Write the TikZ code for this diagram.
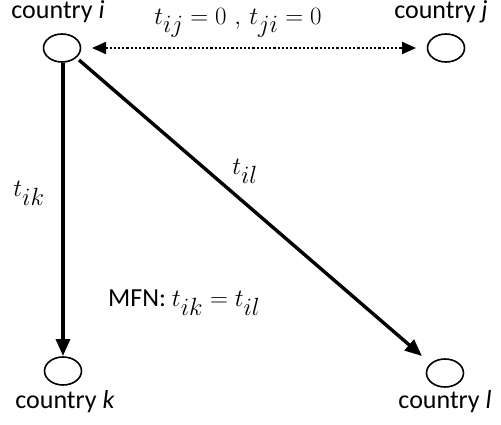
\documentclass[tikz,border=0pt]{standalone}
\usepackage{fontspec}
\setmainfont{Carlito}
\usetikzlibrary{arrows.meta,shapes.geometric}
\newcommand{\mathbig}{\fontsize{34}{36}\selectfont}
\begin{document}
\begin{tikzpicture}[x=1pt,y=-1pt,
  country/.style={draw,ellipse,line width=1.6pt,minimum width=37pt,minimum height=28pt,inner sep=0pt},
  lab/.style={font=\fontsize{26}{28}\selectfont,inner sep=0pt},
  mlab/.style={font=\mathbig,inner sep=0pt},
  link/.style={line width=3.4pt,-{Triangle[length=17pt,width=14pt]}}]
\useasboundingbox (0,0) rectangle (501,425);
\node[country] (i) at (62,48) {};
\node[country] (j) at (446,48) {};
\node[country] (k) at (63,371) {};
\node[country] (l) at (445,373) {};
\node[lab] (li) at (58,12) {country \textit{i}};
\node[lab] (lj) at (441,12) {country \textit{j}};
\node[lab] (lk) at (65,402) {country \textit{k}};
\node[lab] (ll) at (445,402) {country \textit{l}};
\node[mlab] (tij) at (238,23) {$t_{ij}=0\ ,\, t_{ji}=0$};
\node[mlab] (tik) at (29,193) {$t_{ik}$};
\node[mlab] (til) at (245,171) {$t_{il}$};
\node[lab,anchor=west] (mfn) at (108,303) {MFN: {\mathbig$t_{ik}=t_{il}$}};
\coordinate (ib) at (63,63);
\coordinate (kt) at (63,356);
\coordinate (ir) at (79,60);
\coordinate (lt) at (422,356);
\coordinate (da) at (92,48);
\coordinate (db) at (416,48);
\draw[line width=2.2pt,dash pattern=on 2.2pt off 2pt,{Triangle[length=14pt,width=12pt]}-{Triangle[length=14pt,width=12pt]}] (da) -- (db);
\draw[link] (ib) -- (kt);
\draw[link] (ir) -- (lt);
\end{tikzpicture}
\end{document}
